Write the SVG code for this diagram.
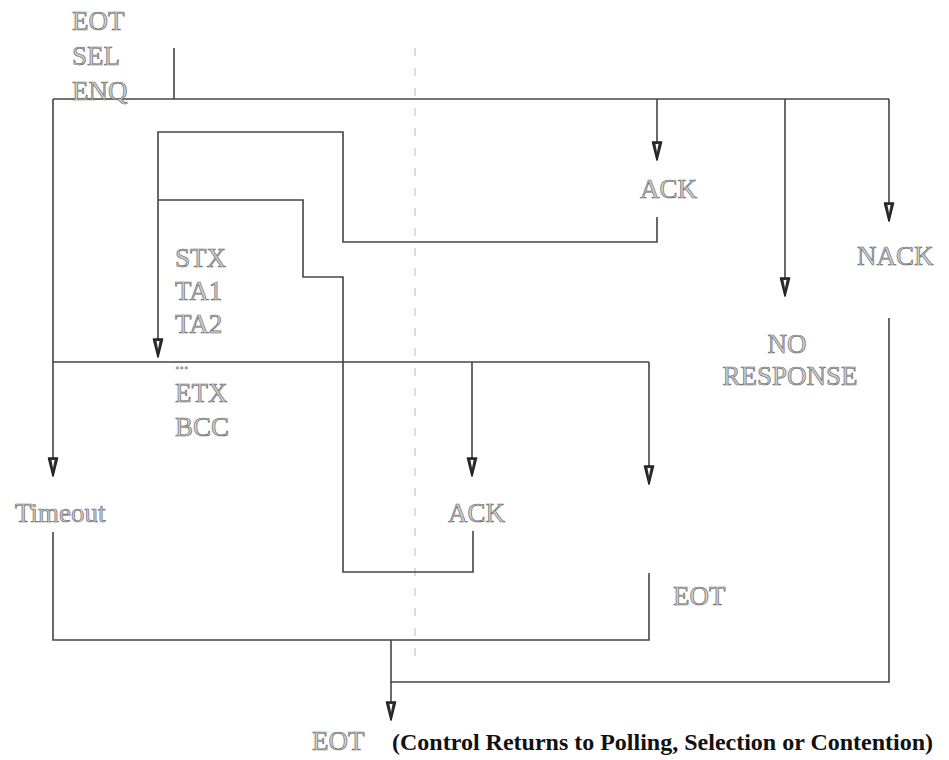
<svg xmlns="http://www.w3.org/2000/svg" width="949" height="760" viewBox="0 0 949 760">
<style>
.ln{fill:none;stroke:#444;stroke-width:1.6}
.dash{fill:none;stroke:#c4c4c4;stroke-width:1.2;stroke-dasharray:8 12}
.lbl{font-family:"Liberation Serif","Times New Roman",serif;font-size:27px;fill:#cfcfcf;stroke:#6e6e6e;stroke-width:0.7}
.note{font-family:"Liberation Serif","Times New Roman",serif;font-size:24px;font-weight:bold;fill:#111}
</style>
<defs>
<marker id="ah" markerUnits="userSpaceOnUse" markerWidth="20" markerHeight="12" viewBox="0 0 20 12" refX="19" refY="6" orient="auto">
<path d="M1,1.5 L1,10.5 L19,6 Z" fill="#333" stroke="#222" stroke-width="1.6" stroke-linejoin="round"/>
<path d="M3,4.5 L3,7.5 L11,6 Z" fill="#fff"/>
</marker>
</defs>
<rect width="949" height="760" fill="#fff"/>
<line class="dash" x1="415" y1="48" x2="415" y2="662"/>
<g id="connectors">
<line class="ln" x1="174" y1="48" x2="174" y2="99"/>
<line class="ln" x1="53" y1="99" x2="889" y2="99"/>
<line class="ln" x1="53" y1="99" x2="53" y2="476" marker-end="url(#ah)"/>
<line class="ln" x1="657" y1="99" x2="657" y2="160" marker-end="url(#ah)"/>
<line class="ln" x1="785" y1="99" x2="785" y2="296" marker-end="url(#ah)"/>
<line class="ln" x1="889" y1="99" x2="889" y2="221" marker-end="url(#ah)"/>
<polyline class="ln" points="657,217 657,242 343,242 343,132 158,132 158,357" marker-end="url(#ah)"/>
<polyline class="ln" points="473,531 473,572 343,572 343,277 303,277 303,200 158,200"/>
<line class="ln" x1="53" y1="362" x2="649" y2="362"/>
<line class="ln" x1="472" y1="362" x2="472" y2="476" marker-end="url(#ah)"/>
<line class="ln" x1="649" y1="362" x2="649" y2="484" marker-end="url(#ah)"/>
<polyline class="ln" points="53,532 53,640 649,640 649,573"/>
<line class="ln" x1="391" y1="640" x2="391" y2="720" marker-end="url(#ah)"/>
<polyline class="ln" points="889,318 889,682 391,682"/>
</g>
<g id="n-start"><text class="lbl" x="72" y="30">EOT</text><text class="lbl" x="72" y="65">SEL</text><text class="lbl" x="72" y="100">ENQ</text></g>
<g id="n-ack1"><text class="lbl" x="640" y="198">ACK</text></g>
<g id="n-nack"><text class="lbl" x="857" y="265">NACK</text></g>
<g id="n-noresp"><text class="lbl" x="787" y="353" text-anchor="middle">NO</text><text class="lbl" x="790" y="385" text-anchor="middle">RESPONSE</text></g>
<g id="n-data"><text class="lbl" x="175" y="267">STX</text><text class="lbl" x="175" y="300">TA1</text><text class="lbl" x="175" y="333">TA2</text><text class="lbl" x="175" y="369" style="font-size:18px">...</text><text class="lbl" x="175" y="402">ETX</text><text class="lbl" x="175" y="436">BCC</text></g>
<g id="n-timeout"><text class="lbl" x="15" y="522">Timeout</text></g>
<g id="n-ack2"><text class="lbl" x="448" y="522">ACK</text></g>
<g id="n-eot2"><text class="lbl" x="673" y="605">EOT</text></g>
<g id="n-eot3"><text class="lbl" x="312" y="750">EOT</text><text class="note" x="392" y="750">(Control Returns to Polling, Selection or Contention)</text></g>
</svg>
